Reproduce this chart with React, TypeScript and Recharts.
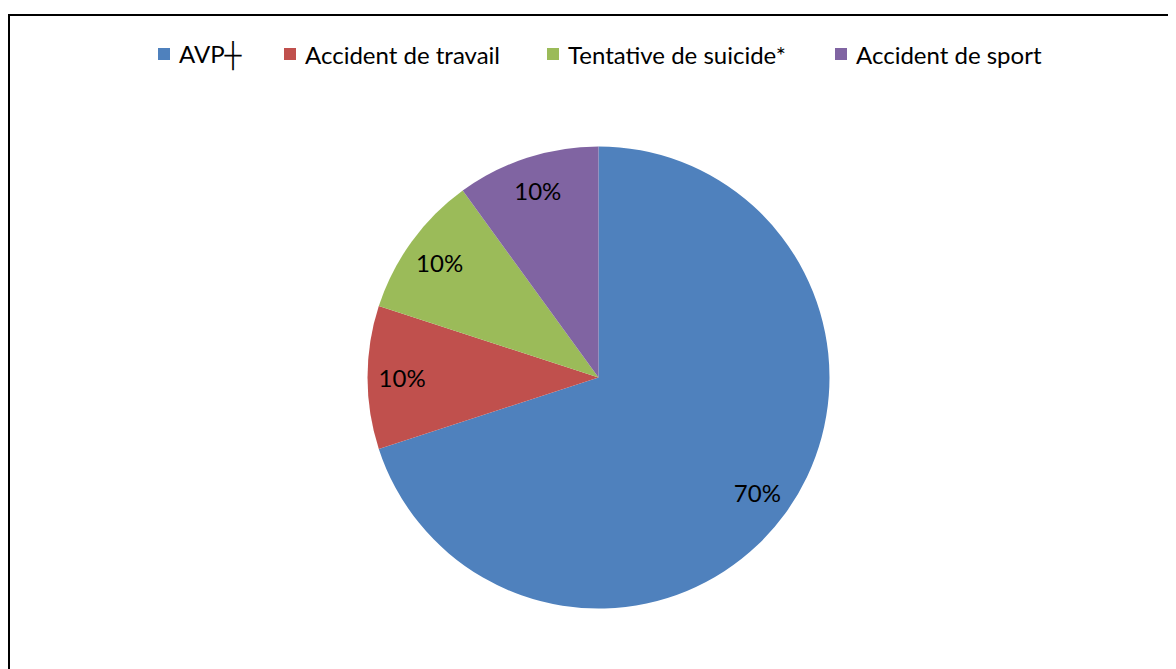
import { PieChart, Pie, Cell } from 'recharts';

const categories = ['AVP┼', 'Accident de travail', 'Tentative de suicide*', 'Accident de sport'];
const values = [70, 10, 10, 10];
const colors = ['#4F81BD', '#C0504D', '#9BBB59', '#8064A2'];

const data = categories.map((name, i) => ({ name, value: values[i] }));
const total = values.reduce((a, b) => a + b, 0);

const FONT = "Lato, 'Open Sans', sans-serif";
const RAD = Math.PI / 180;

// percent labels placed inside the slice, around 85% of the radius
const renderLabel = (props: any) => {
  const { cx, cy, midAngle, outerRadius, value } = props;
  const r = outerRadius * 0.85;
  const x = cx + r * Math.cos(-midAngle * RAD);
  const y = cy + r * Math.sin(-midAngle * RAD);
  return (
    <text
      x={x}
      y={y}
      fill="#000"
      fontSize={24}
      fontFamily={FONT}
      textAnchor="middle"
      dominantBaseline="central"
    >
      {`${Math.round((value / total) * 100)}%`}
    </text>
  );
};

const legendLeft = [150, 276, 539, 827];

export default function App() {
  return (
    <div style={{ position: 'relative', width: 1168, height: 661, overflow: 'hidden' }}>
      <div
        style={{
          position: 'absolute',
          left: 0,
          top: 6,
          width: 1220,
          height: 700,
          border: '2px solid #000',
          boxSizing: 'border-box',
        }}
      />
      {categories.map((c, i) => (
        <div
          key={c}
          style={{
            position: 'absolute',
            left: legendLeft[i],
            top: 31,
            height: 30,
            display: 'flex',
            alignItems: 'center',
            whiteSpace: 'nowrap',
            fontFamily: FONT,
            fontSize: 24,
            color: '#000',
          }}
        >
          <span
            style={{ width: 12, height: 12, background: colors[i], marginRight: 9, display: 'inline-block' }}
          />
          <span>{c}</span>
        </div>
      ))}
      <div style={{ position: 'absolute', left: 0, top: 0 }}>
        <PieChart width={1168} height={661} margin={{ top: 0, right: 0, bottom: 0, left: 0 }}>
          <Pie
            data={data}
            dataKey="value"
            nameKey="name"
            cx={590.5}
            cy={369.5}
            outerRadius={231}
            startAngle={90}
            endAngle={-270}
            stroke="none"
            label={renderLabel}
            labelLine={false}
            isAnimationActive={false}
          >
            {data.map((d, i) => (
              <Cell key={d.name} fill={colors[i]} />
            ))}
          </Pie>
        </PieChart>
      </div>
    </div>
  );
}
